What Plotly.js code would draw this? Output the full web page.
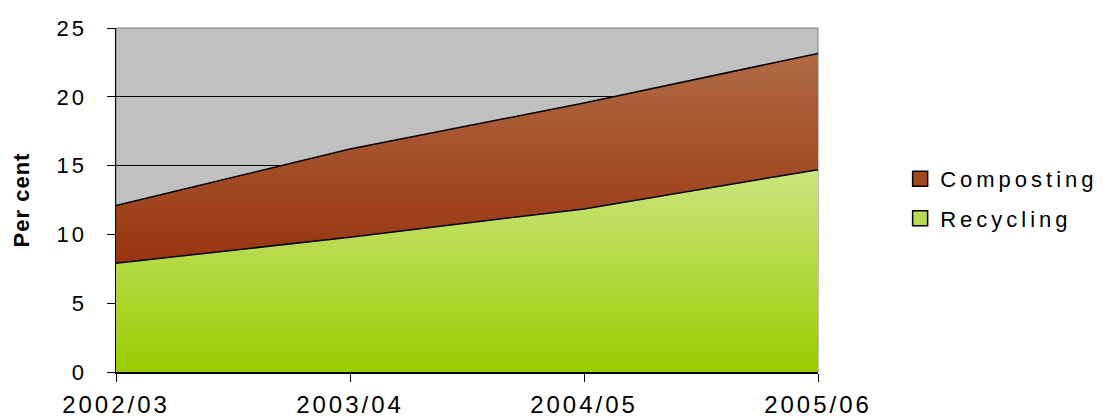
<!DOCTYPE html>
<html>
<head>
<meta charset="utf-8">
<script src="https://cdn.plot.ly/plotly-3.0.1.min.js"></script>
<style>
html,body{margin:0;padding:0;background:#fff;}
#chart{width:1103px;height:419px;}
#chart g.xtick text{letter-spacing:3px;}
#chart g.ytick text{letter-spacing:3px;}
#chart text.legendtext{letter-spacing:4px;}
#chart text.ytitle{letter-spacing:1px;}
#chart g.legend g.scrollbox{clip-path:none !important;}
</style>
</head>
<body>
<div id="chart"></div>
<script>
var years = ["2002/03", "2003/04", "2004/05", "2005/06"];
var recycling = [7.9, 9.8, 11.85, 14.7];
var composting = [4.2, 6.4, 7.7, 8.45];
var yTicks = [0, 5, 10, 15, 20, 25];

var font = "Liberation Sans, Arial, sans-serif";

var traces = [
  {
    x: years, y: recycling, name: "Recycling", type: "scatter", mode: "lines",
    stackgroup: "one", showlegend: false,
    line: {color: "#000", width: 1.5},
    fillcolor: "#B5D84A",
    fillgradient: {type: "vertical", start: 0, stop: 15,
      colorscale: [[0, "#99CC00"], [1, "#CCE680"]]}
  },
  {
    x: years, y: composting, name: "Composting", type: "scatter", mode: "lines",
    stackgroup: "one", showlegend: false,
    line: {color: "#000", width: 1.5},
    fillcolor: "#A0451C",
    fillgradient: {type: "vertical", start: 8, stop: 23,
      colorscale: [[0, "#983510"], [1, "#B06A42"]]}
  },
  {
    x: [null], y: [null], name: "Composting", type: "scatter", mode: "markers",
    legendgroup: "c", legendrank: 1,
    marker: {symbol: "square", size: 15, color: "#A3461E", line: {color: "#000", width: 1.5}}
  },
  {
    x: [null], y: [null], name: "Recycling", type: "scatter", mode: "markers",
    legendgroup: "r", legendrank: 2,
    marker: {symbol: "square", size: 15, color: "#B8DC50", line: {color: "#000", width: 1.5}}
  }
];

var layout = {
  width: 1103, height: 419,
  margin: {l: 116, r: 285, t: 28, b: 47},
  paper_bgcolor: "#fff",
  plot_bgcolor: "#C0C0C0",
  font: {family: font, size: 21, color: "#000"},
  showlegend: true,
  legend: {x: 1.117, xanchor: "left", y: 0.503, yanchor: "middle",
    traceorder: "grouped", tracegroupgap: 8,
    font: {family: font, size: 22, color: "#000"}, bgcolor: "rgba(0,0,0,0)"},
  xaxis: {
    type: "category", range: [0, 3], showgrid: false,
    ticks: "outside", ticklen: 8, tickcolor: "#000", tickwidth: 1,
    showline: true, linecolor: "#000", linewidth: 1.5,
    ticklabelstandoff: 3,
    tickfont: {family: font, size: 24}, fixedrange: true
  },
  yaxis: {
    range: [0, 25], tickvals: yTicks, ticktext: yTicks.map(String),
    showgrid: true, gridcolor: "#000", gridwidth: 1,
    ticks: "outside", ticklen: 8, tickcolor: "#000",
    showline: true, linecolor: "#000", linewidth: 1.5,
    zeroline: false,
    ticklabelstandoff: 15,
    tickfont: {family: font, size: 22},
    title: {text: "<b>Per cent</b>", font: {family: font, size: 22}, standoff: 27},
    fixedrange: true
  },
  shapes: [
    {type: "rect", xref: "paper", yref: "paper", x0: 0, x1: 1, y0: 0, y1: 1,
     line: {color: "#808080", width: 1}, fillcolor: "rgba(0,0,0,0)", layer: "below"}
  ]
};

Plotly.newPlot("chart", traces, layout, {displayModeBar: false, staticPlot: true});
</script>
</body>
</html>
